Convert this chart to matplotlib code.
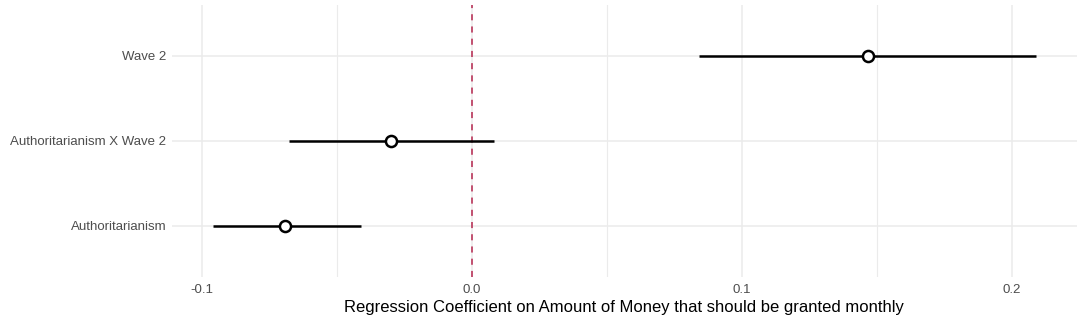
import numpy as np
import matplotlib
matplotlib.use("Agg")
import matplotlib.pyplot as plt

# Koeffizienten und Konfidenzintervalle
terms = ["Authoritarianism", "Authoritarianism X Wave 2", "Wave 2"]
estimate = [-0.0692, -0.0299, 0.1468]
ci_low = [-0.0959, -0.0677, 0.0842]
ci_high = [-0.0412, 0.0082, 0.2088]

x_ticks = [-0.1, 0.0, 0.1, 0.2]
x_tick_labels = ["-0.1", "0.0", "0.1", "0.2"]
x_minor = [-0.05, 0.05, 0.15]
x_label = "Regression Coefficient on Amount of Money that should be granted monthly"

plt.rcParams['font.family'] = ['Liberation Sans', 'DejaVu Sans']

W, H = 1084, 320
fig = plt.figure(figsize=(W / 100, H / 100), dpi=100)
# Panel in Pixeln: links 171.7, rechts 1077, oben 4.6, unten 277
ax = fig.add_axes([171.7 / W, (H - 277) / H, (1077 - 171.7) / W, (277 - 4.6) / H])

ypos = np.arange(1, len(terms) + 1)

# Gitter wie bei theme_minimal
for x in x_ticks:
    ax.axvline(x, color='#EBEBEB', lw=1.1, zorder=0)
for x in x_minor:
    ax.axvline(x, color='#EBEBEB', lw=0.8, zorder=0)
for y in ypos:
    ax.axhline(y, color='#EBEBEB', lw=1.1, zorder=0)

# Nulllinie
ax.axvline(0, color='#B5264E', lw=1.1, ls=(0, (4, 4)), zorder=1)

# Intervalle und Punkte
ax.hlines(ypos, ci_low, ci_high, color='black', lw=1.8, zorder=2)
ax.plot(estimate, ypos, 'o', ms=8, mfc='white', mec='black', mew=1.8, zorder=3)

lo = min(ci_low)
hi = max(ci_high)
pad = (hi - lo) * 0.05
ax.set_xlim(lo - pad, hi + pad)
ax.set_ylim(0.4, len(terms) + 0.6)

ax.set_xticks(x_ticks)
ax.set_xticklabels(x_tick_labels)
ax.set_yticks(ypos)
ax.set_yticklabels(terms)
ax.tick_params(length=0, labelsize=9.5, labelcolor='#4D4D4D')
ax.tick_params(axis='x', pad=5)
ax.tick_params(axis='y', pad=4)

for s in ax.spines.values():
    s.set_visible(False)

# Achsentitel unter den Ticks
fig.text((171.7 + 1077) / 2 / W, 8 / H, x_label, fontsize=12,
         color='black', ha='center', va='baseline')

fig.savefig("out.png", dpi=100, facecolor='white')
